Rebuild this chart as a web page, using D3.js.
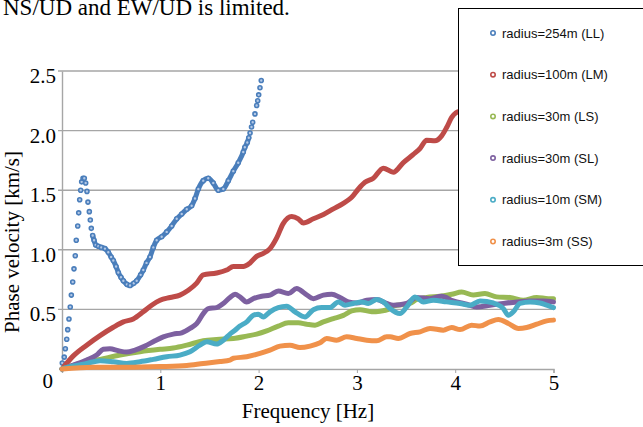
<!DOCTYPE html>
<html lang="en">
<head>
    <meta charset="UTF-8">
    <title>Phase velocity</title>
    <script src="https://d3js.org/d3.v7.min.js"></script>
    <style>
        body { margin: 0; background: #fff; }
        svg { display: block; }
    </style>
</head>
<body>
    <div id="chart"></div>
    <script>
        // series labels, in drawing order
        var seriesNames = ["radius=254m (LL)", "radius=100m (LM)", "radius=30m (LS)", "radius=30m (SL)", "radius=10m (SM)", "radius=3m (SS)"];
        var seriesColors = ["#4a7ebb", "#be4b48", "#98b954", "#7d60a0", "#4aacc6", "#f0914a"];

        var yTicks = [0.5, 1.0, 1.5, 2.0, 2.5];
        var xTicks = [1, 2, 3, 4, 5];

        // [frequency Hz, phase velocity km/s]
        // LL is split where its markers sit apart (rise, top) and where they pile up into a band
        var llRise = [
            [0.003, 0.05], [0.023, 0.10], [0.034, 0.17], [0.048, 0.25], [0.058, 0.33], [0.071, 0.42],
            [0.084, 0.52], [0.095, 0.62], [0.109, 0.73], [0.122, 0.84], [0.135, 0.95], [0.145, 1.08],
            [0.160, 1.20], [0.170, 1.31], [0.180, 1.42], [0.190, 1.50], [0.200, 1.57], [0.214, 1.60],
            [0.227, 1.60], [0.241, 1.56], [0.254, 1.49], [0.264, 1.40], [0.278, 1.32], [0.288, 1.25],
            [0.298, 1.18], [0.312, 1.12]
        ];
        var llBand = [
            [0.326, 1.08], [0.343, 1.04], [0.37, 1.03], [0.40, 1.02],
            [0.437, 1.01], [0.471, 0.98], [0.50, 0.94], [0.522, 0.91], [0.55, 0.86], [0.573, 0.81],
            [0.60, 0.77], [0.624, 0.74], [0.66, 0.71], [0.692, 0.70], [0.73, 0.72], [0.76, 0.74],
            [0.80, 0.79], [0.827, 0.83], [0.86, 0.89], [0.895, 0.94], [0.929, 1.02], [0.963, 1.08],
            [1.014, 1.11], [1.065, 1.15], [1.116, 1.20], [1.167, 1.26], [1.218, 1.30], [1.269, 1.34],
            [1.319, 1.37], [1.353, 1.43], [1.387, 1.51], [1.437, 1.58], [1.488, 1.60], [1.539, 1.56],
            [1.59, 1.50], [1.641, 1.51], [1.692, 1.58], [1.743, 1.66], [1.793, 1.73], [1.844, 1.82],
            [1.86, 1.86], [1.885, 1.90]
        ];
        var llTop = [
            [1.90, 1.94], [1.913, 1.98], [1.928, 2.03], [1.94, 2.07],
            [1.963, 2.14], [1.98, 2.21], [1.991, 2.25], [2.001, 2.30], [2.014, 2.36], [2.027, 2.42]
        ];
        var lm = [
            [0, 0], [0.115, 0.11], [0.251, 0.20], [0.387, 0.28], [0.522, 0.35], [0.624, 0.395],
            [0.725, 0.42], [0.827, 0.48], [0.912, 0.535], [0.997, 0.577], [1.1, 0.60], [1.2, 0.62],
            [1.285, 0.66], [1.37, 0.72], [1.437, 0.79], [1.573, 0.805], [1.675, 0.83], [1.743, 0.86],
            [1.844, 0.86], [1.913, 0.89], [1.98, 0.945], [2.048, 0.97], [2.116, 1.01], [2.184, 1.10],
            [2.25, 1.22], [2.337, 1.28], [2.404, 1.26], [2.455, 1.225], [2.557, 1.26], [2.66, 1.296],
            [2.76, 1.343], [2.862, 1.39], [2.947, 1.44], [3.015, 1.51], [3.082, 1.566], [3.167, 1.60],
            [3.269, 1.685], [3.37, 1.65], [3.47, 1.73], [3.574, 1.80], [3.642, 1.85], [3.71, 1.92],
            [3.794, 1.915], [3.862, 1.956], [3.913, 2.026], [3.964, 2.11], [4.008, 2.15], [4.04, 2.16]
        ];
        var ls = [
            [0, 0], [0.183, 0.047], [0.387, 0.081], [0.59, 0.117], [0.794, 0.145], [0.997, 0.165],
            [1.132, 0.176], [1.269, 0.20], [1.437, 0.237], [1.573, 0.248], [1.743, 0.256], [1.879, 0.276],
            [1.98, 0.293], [2.082, 0.32], [2.2, 0.36], [2.302, 0.387], [2.404, 0.387], [2.489, 0.376],
            [2.574, 0.368], [2.658, 0.395], [2.76, 0.423], [2.862, 0.45], [2.947, 0.487], [3.032, 0.498],
            [3.15, 0.48], [3.235, 0.485], [3.32, 0.50], [3.37, 0.527], [3.54, 0.55], [3.608, 0.583],
            [3.71, 0.60], [3.845, 0.61], [3.964, 0.627], [4.066, 0.646], [4.184, 0.62], [4.303, 0.633],
            [4.422, 0.605], [4.558, 0.60], [4.693, 0.577], [4.829, 0.60], [4.947, 0.59], [5.0, 0.59]
        ];
        var sl = [
            [0, 0], [0.115, 0.033], [0.251, 0.075], [0.353, 0.117], [0.42, 0.165], [0.488, 0.17],
            [0.573, 0.153], [0.658, 0.142], [0.743, 0.159], [0.844, 0.192], [0.946, 0.237], [1.03, 0.27],
            [1.132, 0.293], [1.218, 0.304], [1.302, 0.34], [1.37, 0.38], [1.437, 0.465], [1.488, 0.507],
            [1.573, 0.515], [1.641, 0.55], [1.709, 0.600], [1.76, 0.627], [1.81, 0.605], [1.879, 0.563],
            [1.946, 0.59], [2.031, 0.61], [2.116, 0.62], [2.2, 0.655], [2.302, 0.633], [2.387, 0.675],
            [2.472, 0.633], [2.557, 0.59], [2.658, 0.62], [2.744, 0.627], [2.828, 0.60], [2.913, 0.563],
            [2.998, 0.554], [3.1, 0.577], [3.201, 0.583], [3.303, 0.55], [3.37, 0.535], [3.506, 0.55],
            [3.608, 0.60], [3.744, 0.59], [3.862, 0.61], [3.98, 0.571], [4.117, 0.543], [4.218, 0.52],
            [4.354, 0.535], [4.49, 0.55], [4.626, 0.563], [4.761, 0.571], [4.897, 0.571], [5.0, 0.563]
        ];
        var sm = [
            [0, 0], [0.115, 0.025], [0.251, 0.047], [0.387, 0.07], [0.522, 0.061], [0.658, 0.047],
            [0.794, 0.061], [0.929, 0.081], [1.065, 0.103], [1.2, 0.117], [1.302, 0.145], [1.404, 0.20],
            [1.472, 0.228], [1.573, 0.209], [1.641, 0.242], [1.709, 0.293], [1.76, 0.325], [1.81, 0.36],
            [1.879, 0.395], [1.946, 0.45], [1.997, 0.46], [2.048, 0.437], [2.116, 0.48], [2.2, 0.515],
            [2.286, 0.527], [2.37, 0.48], [2.472, 0.437], [2.557, 0.498], [2.641, 0.515], [2.726, 0.515],
            [2.811, 0.563], [2.879, 0.535], [2.964, 0.55], [3.049, 0.563], [3.116, 0.55], [3.201, 0.583],
            [3.269, 0.563], [3.337, 0.507], [3.438, 0.465], [3.506, 0.52], [3.59, 0.605], [3.675, 0.563],
            [3.777, 0.577], [3.913, 0.563], [4.049, 0.55], [4.15, 0.535], [4.252, 0.571], [4.388, 0.554],
            [4.49, 0.507], [4.541, 0.45], [4.592, 0.48], [4.659, 0.55], [4.761, 0.563], [4.863, 0.554],
            [4.931, 0.535], [5.0, 0.515]
        ];
        var ss = [
            [0, 0], [0.318, 0.014], [0.658, 0.014], [0.997, 0.02], [1.269, 0.03], [1.437, 0.047],
            [1.607, 0.063], [1.709, 0.075], [1.743, 0.09], [1.879, 0.103], [2.014, 0.131], [2.116, 0.159],
            [2.218, 0.192], [2.319, 0.20], [2.421, 0.18], [2.523, 0.192], [2.625, 0.22], [2.692, 0.256],
            [2.794, 0.242], [2.896, 0.27], [2.998, 0.256], [3.1, 0.242], [3.201, 0.237], [3.303, 0.27],
            [3.337, 0.27], [3.421, 0.256], [3.54, 0.298], [3.642, 0.312], [3.744, 0.34], [3.879, 0.326],
            [3.964, 0.348], [4.049, 0.331], [4.167, 0.368], [4.252, 0.36], [4.354, 0.395], [4.439, 0.415],
            [4.541, 0.382], [4.643, 0.34], [4.727, 0.348], [4.829, 0.376], [4.931, 0.404], [5.0, 0.41]
        ];

        var lineSeries = [lm, ls, sl, sm, ss];

        var svg = d3.select("#chart").append("svg")
            .attr("width", 643)
            .attr("height", 427);

        var x = d3.scaleLinear().domain([0, 5]).range([62, 553.5]);
        var y = d3.scaleLinear().domain([0, 2.5]).range([369, 71]);

        var serif = "'Liberation Serif', 'Times New Roman', serif";

        // text above the chart (its top is cut by the page edge in the source)
        svg.append("text")
            .attr("x", 3)
            .attr("y", 15)
            .style("font-family", serif)
            .style("font-size", "23px")
            .text("NS/UD and EW/UD is limited.");

        // gridlines
        svg.append("g")
            .selectAll("line")
            .data(yTicks)
            .enter()
            .append("line")
            .attr("x1", x(0) - 4)
            .attr("x2", x(5))
            .attr("y1", function(d) { return y(d); })
            .attr("y2", function(d) { return y(d); })
            .attr("stroke", "#a6a6a6")
            .attr("stroke-width", 1.4);

        // axes
        var xAxis = svg.append("g")
            .attr("transform", "translate(0," + y(0) + ")")
            .call(d3.axisBottom(x).tickValues(xTicks).tickSize(4).tickFormat(d3.format("d")));
        xAxis.select(".domain").attr("stroke", "#a6a6a6").attr("stroke-width", 1.4);
        xAxis.selectAll(".tick line").attr("stroke", "#a6a6a6");
        xAxis.selectAll("text")
            .attr("y", 6)
            .attr("dy", "0.71em")
            .attr("fill", "#000")
            .style("font-family", serif)
            .style("font-size", "21px");

        var yAxis = svg.append("g")
            .attr("transform", "translate(" + x(0) + ",0)")
            .call(d3.axisLeft(y).tickValues(yTicks).tickSize(0).tickPadding(6).tickFormat(d3.format(".1f")));
        yAxis.select(".domain").attr("stroke", "#a6a6a6").attr("stroke-width", 1.4);
        yAxis.selectAll("text")
            .attr("dy", "0.55em")
            .attr("fill", "#000")
            .style("font-family", serif)
            .style("font-size", "21px");

        // the lone "0" at the origin
        svg.append("text")
            .attr("x", x(0) - 9)
            .attr("y", y(0) + 19)
            .attr("text-anchor", "end")
            .style("font-family", serif)
            .style("font-size", "21px")
            .text("0");

        svg.append("text")
            .attr("x", 308)
            .attr("y", 418)
            .attr("text-anchor", "middle")
            .style("font-family", serif)
            .style("font-size", "21px")
            .text("Frequency [Hz]");

        svg.append("text")
            .attr("transform", "translate(19,242) rotate(-90)")
            .attr("text-anchor", "middle")
            .style("font-family", serif)
            .style("font-size", "21px")
            .text("Phase velocity [km/s]");

        var px = function(d) { return x(d[0]); };
        var py = function(d) { return y(d[1]); };

        // LL: marker-only series; where markers crowd together they form a solid band
        var llColor = seriesColors[0];
        var llGroup = svg.append("g");
        llGroup.append("path")
            .datum([llRise[llRise.length - 1]].concat(llBand, [llTop[0]]))
            .attr("d", d3.line().x(px).y(py).curve(d3.curveMonotoneX))
            .attr("fill", "none")
            .attr("stroke", llColor)
            .attr("stroke-width", 5)
            .attr("stroke-linejoin", "round")
            .attr("stroke-linecap", "round");
        llGroup.selectAll("circle")
            .data(llRise.concat(llBand, llTop))
            .enter()
            .append("circle")
            .attr("cx", px)
            .attr("cy", py)
            .attr("r", 2)
            .attr("fill", "#b3c8e6")
            .attr("stroke", llColor)
            .attr("stroke-width", 1.6);

        // other series, dense enough to read as thick lines
        var line = d3.line().x(px).y(py).curve(d3.curveMonotoneX);

        svg.append("g")
            .selectAll("path")
            .data(lineSeries)
            .enter()
            .append("path")
            .attr("d", line)
            .attr("fill", "none")
            .attr("stroke", function(d, i) { return seriesColors[i + 1]; })
            .attr("stroke-width", 5)
            .attr("stroke-linejoin", "round")
            .attr("stroke-linecap", "round");

        // legend
        var legend = svg.append("g");
        legend.append("rect")
            .attr("x", 458.5)
            .attr("y", 8.5)
            .attr("width", 200)
            .attr("height", 257)
            .attr("fill", "#fff")
            .attr("stroke", "#000")
            .attr("stroke-width", 1);

        var rows = legend.selectAll(".row")
            .data(seriesNames)
            .enter()
            .append("g")
            .attr("transform", function(d, i) { return "translate(493," + (33 + i * 41.7) + ")"; });

        rows.append("circle")
            .attr("r", 2.2)
            .attr("fill", "#fff")
            .attr("stroke", function(d, i) { return seriesColors[i]; })
            .attr("stroke-width", 1.6);

        rows.append("text")
            .attr("x", 9)
            .attr("dy", "0.35em")
            .style("font-family", "'Liberation Sans', Arial, sans-serif")
            .style("font-size", "13px")
            .attr("fill", "#111")
            .text(function(d) { return d; });
    </script>
</body>
</html>
